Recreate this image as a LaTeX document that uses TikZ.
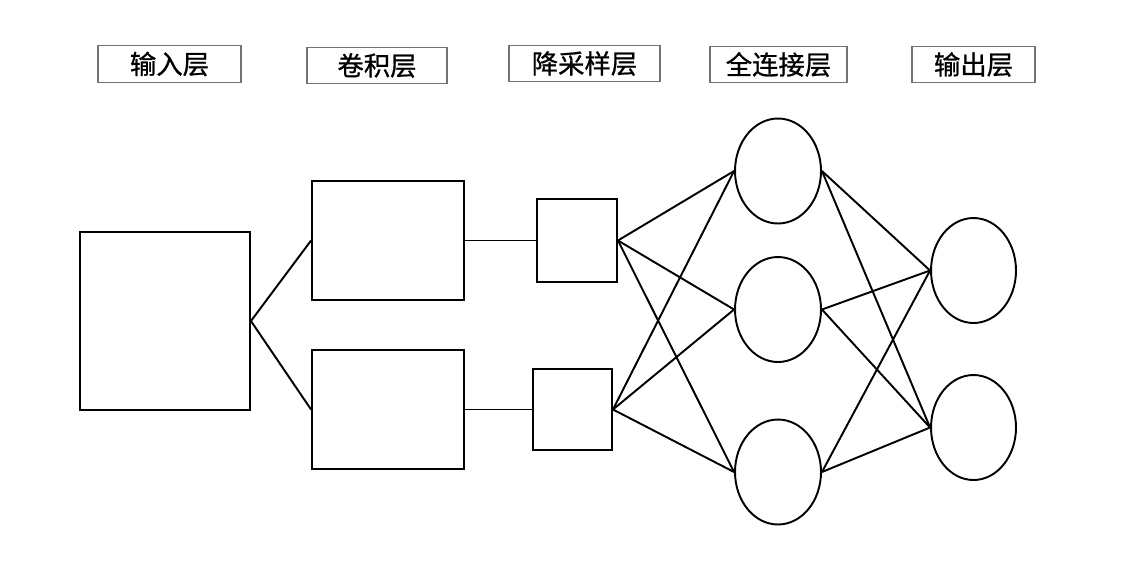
\documentclass[tikz,border=0pt]{standalone}
\usepackage{fontspec}
\newfontfamily\cjk[FakeBold=0.8]{Noto Sans CJK SC}
\usetikzlibrary{positioning,shapes.geometric}
\begin{document}
\begin{tikzpicture}[x=0.02cm, y=-0.02cm,
    every node/.style={align=center, inner sep=0pt},
    layer/.style={draw=black!55, line width=0.7pt, minimum height=0.73cm, font=\cjk\fontsize{15}{18}\selectfont},
    block/.style={draw, line width=1.1pt},
    unit/.style={draw, ellipse, line width=1.1pt, minimum width=1.72cm, minimum height=2.1cm},
    link/.style={line width=1.1pt}]
    \useasboundingbox (0,0) rectangle (1128,569);

    % Layer titles
    \node[layer, minimum width=2.86cm] (tin)   at (169.5,64) {输入层};
    \node[layer, minimum width=2.80cm] (tconv) at (377,65.5) {卷积层};
    \node[layer, minimum width=3.02cm] (tpool) at (584.5,63.5) {降采样层};
    \node[layer, minimum width=2.74cm] (tfc)   at (778.5,64.5) {全连接层};
    \node[layer, minimum width=2.46cm] (tout)  at (973.5,64.5) {输出层};

    % Input and feature maps
    \node[block, minimum width=3.4cm, minimum height=3.56cm] (in) at (165,321) {};
    \node[block, minimum width=3.04cm, minimum height=2.38cm] (c1) at (388,240.5) {};
    \node[block, minimum width=3.04cm, minimum height=2.38cm] (c2) at (388,409.5) {};
    \node[block, minimum width=1.6cm, minimum height=1.66cm] (p1) at (577,240.5) {};
    \node[block, minimum width=1.58cm, minimum height=1.62cm] (p2) at (572.5,409.5) {};

    % Fully connected and output units
    \node[unit] (f1) at (778,171) {};
    \node[unit] (f2) at (778,309.5) {};
    \node[unit] (f3) at (778,472) {};
    \node[unit, minimum width=1.7cm] (o1) at (973.5,270.5) {};
    \node[unit, minimum width=1.7cm] (o2) at (973.5,427.5) {};

    % Connections
    \draw[link] (in.east) -- (c1.west);
    \draw[link] (in.east) -- (c2.west);
    \draw[link] (c1.east) -- (p1.west);
    \draw[link] (c2.east) -- (p2.west);
    \foreach \p in {p1,p2}
        \foreach \f in {f1,f2,f3}
            \draw[link] (\p.east) -- (\f.west);
    \foreach \f in {f1,f2,f3}
        \foreach \o in {o1,o2}
            \draw[link] (\f.east) -- (\o.west);
\end{tikzpicture}
\end{document}
